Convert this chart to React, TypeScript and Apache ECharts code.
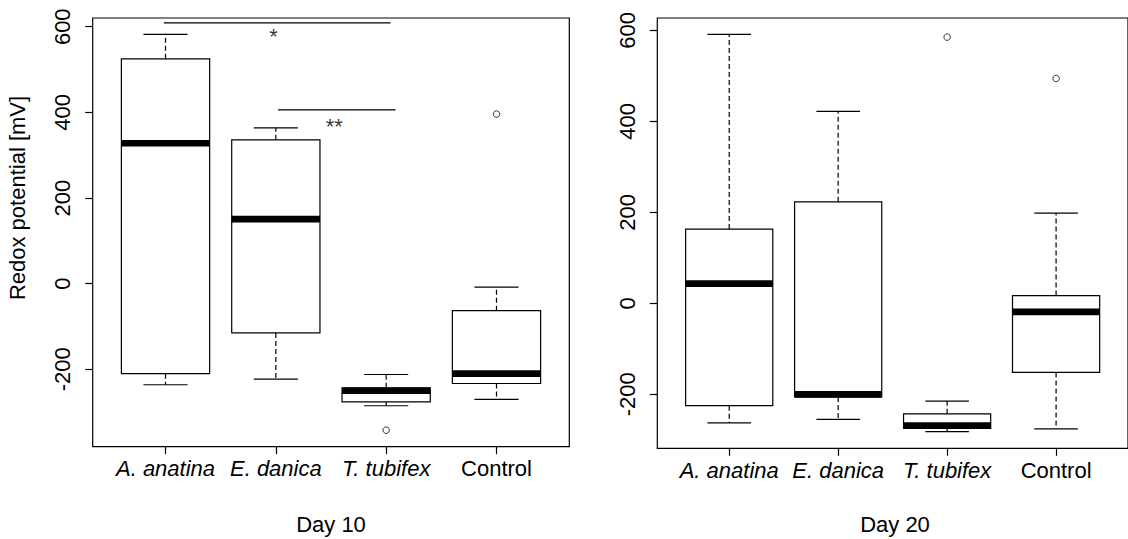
import React, { useEffect, useRef } from "react";
import * as echarts from "echarts";

const FONT = "'Liberation Sans', Arial, Helvetica, sans-serif";

const categories = ["A. anatina", "E. danica", "T. tubifex", "Control"];
const italicCats = [true, true, true, false];
const xTicks = [1, 2, 3, 4];
const yTicks = [-200, 0, 200, 400, 600];

// [lower whisker, Q1, median, Q3, upper whisker]
const day10Stats = [
  [-236, -210, 328, 525, 582],
  [-223, -115, 151, 336, 364],
  [-285, -276, -250, -243, -212],
  [-270, -233, -210, -63, -8],
];
const day10Outliers = [
  [3, -342],
  [4, 396],
];
const day20Stats = [
  [-263, -225, 43, 163, 591],
  [-255, -206, -200, 223, 422],
  [-282, -275, -269, -243, -215],
  [-276, -152, -19, 17, 198],
];
const day20Outliers = [
  [3, 585],
  [4, 494],
];

// significance brackets (Day 10)
const sigLineA = [
  [0.985, 609],
  [3.04, 609],
];
const sigLineB = [
  [2.02, 406],
  [3.085, 406],
];
const sigLabels = [
  { pos: [1.98, 577], text: "*" },
  { pos: [2.53, 368], text: "**" },
];

const panelTitles = ["Day 10", "Day 20"];
const yAxisTitle = "Redox potential [mV]";

const renderBox = (_params: any, api: any) => {
  const x = api.value(0);
  const lo = api.value(1);
  const q1 = api.value(2);
  const md = api.value(3);
  const q3 = api.value(4);
  const hi = api.value(5);
  const p = (a: number, b: number) => api.coord([a, b]);
  const hw = 0.4;
  const cw = 0.2;
  const line = (a: number[], b: number[], style: any) => ({
    type: "line",
    shape: { x1: a[0], y1: a[1], x2: b[0], y2: b[1] },
    style,
  });
  const thin = { stroke: "#000", lineWidth: 1.2 };
  const dashed = { stroke: "#000", lineWidth: 1.2, lineDash: [5, 3] };
  const tl = p(x - hw, q3);
  const br = p(x + hw, q1);
  return {
    type: "group",
    children: [
      line(p(x, q3), p(x, hi), dashed),
      line(p(x, q1), p(x, lo), dashed),
      line(p(x - cw, hi), p(x + cw, hi), thin),
      line(p(x - cw, lo), p(x + cw, lo), thin),
      {
        type: "rect",
        shape: { x: tl[0], y: tl[1], width: br[0] - tl[0], height: br[1] - tl[1] },
        style: { fill: "#fff", stroke: "#000", lineWidth: 1.2 },
      },
      line(p(x - hw, md), p(x + hw, md), { stroke: "#000", lineWidth: 6.7 }),
    ],
  };
};

const makeXAxis = (gridIndex: number) => ({
  type: "value",
  gridIndex,
  min: 0.34,
  max: 4.66,
  axisLine: { show: false, onZero: false },
  splitLine: { show: false },
  axisTick: {
    show: true,
    customValues: xTicks,
    length: 7.5,
    lineStyle: { color: "#000", width: 1.2 },
  },
  axisLabel: {
    show: true,
    customValues: xTicks,
    margin: 11,
    formatter: (v: number) => {
      const i = Math.round(v) - 1;
      const name = categories[i] ?? "";
      return italicCats[i] ? `{i|${name}}` : `{n|${name}}`;
    },
    rich: {
      i: { fontStyle: "italic", fontSize: 22, fontFamily: FONT, color: "#000" },
      n: { fontSize: 22, fontFamily: FONT, color: "#000" },
    },
  },
});

const makeYAxis = (gridIndex: number, min: number, max: number) => ({
  type: "value",
  gridIndex,
  min,
  max,
  axisLine: { show: false, onZero: false },
  splitLine: { show: false },
  axisTick: {
    show: true,
    customValues: yTicks,
    length: 7.5,
    lineStyle: { color: "#000", width: 1.2 },
  },
  axisLabel: {
    show: true,
    customValues: yTicks,
    rotate: 90,
    margin: 19,
    fontSize: 22,
    fontFamily: FONT,
    color: "#000",
  },
});

export default function App() {
  const ref = useRef<HTMLDivElement>(null);
  useEffect(() => {
    if (!ref.current) return;
    const chart = echarts.init(ref.current, undefined, { renderer: "svg" });
    const option: any = {
      animation: false,
      backgroundColor: "#fff",
      grid: [
        {
          left: 92.7,
          top: 18,
          width: 476.6,
          height: 428.7,
          show: true,
          borderColor: "#000",
          borderWidth: 1.2,
          backgroundColor: "#fff",
        },
        {
          left: 657.3,
          top: 18,
          width: 478.5,
          height: 430.3,
          show: true,
          borderColor: "#000",
          borderWidth: 1.2,
          backgroundColor: "#fff",
        },
      ],
      xAxis: [makeXAxis(0), makeXAxis(1)],
      yAxis: [makeYAxis(0, -380.6, 620.4), makeYAxis(1, -318.7, 627)],
      series: [
        {
          type: "custom",
          xAxisIndex: 0,
          yAxisIndex: 0,
          renderItem: renderBox,
          encode: { x: 0, y: [1, 2, 3, 4, 5] },
          data: day10Stats.map((s, i) => [xTicks[i], ...s]),
          silent: true,
        },
        {
          type: "custom",
          xAxisIndex: 1,
          yAxisIndex: 1,
          renderItem: renderBox,
          encode: { x: 0, y: [1, 2, 3, 4, 5] },
          data: day20Stats.map((s, i) => [xTicks[i], ...s]),
          silent: true,
        },
        {
          type: "scatter",
          xAxisIndex: 0,
          yAxisIndex: 0,
          symbol: "circle",
          symbolSize: 6.5,
          itemStyle: { color: "#fff", borderColor: "#000", borderWidth: 1 },
          data: day10Outliers,
          silent: true,
        },
        {
          type: "scatter",
          xAxisIndex: 1,
          yAxisIndex: 1,
          symbol: "circle",
          symbolSize: 6.5,
          itemStyle: { color: "#fff", borderColor: "#000", borderWidth: 1 },
          data: day20Outliers,
          silent: true,
        },
        {
          type: "line",
          xAxisIndex: 0,
          yAxisIndex: 0,
          symbol: "none",
          lineStyle: { color: "#000", width: 1.2 },
          data: sigLineA,
          silent: true,
        },
        {
          type: "line",
          xAxisIndex: 0,
          yAxisIndex: 0,
          symbol: "none",
          lineStyle: { color: "#000", width: 1.2 },
          data: sigLineB,
          silent: true,
        },
        {
          type: "scatter",
          xAxisIndex: 0,
          yAxisIndex: 0,
          symbolSize: 0,
          data: sigLabels.map((l) => ({ value: l.pos, name: l.text })),
          label: {
            show: true,
            position: "inside",
            formatter: (p: any) => p.name,
            fontSize: 22,
            fontFamily: FONT,
            color: "#000",
          },
          silent: true,
        },
      ],
      graphic: [
        {
          type: "text",
          x: 17,
          y: 198,
          rotation: Math.PI / 2,
          style: {
            text: yAxisTitle,
            fontSize: 22,
            fontFamily: FONT,
            fill: "#000",
            textAlign: "center",
            textVerticalAlign: "middle",
          },
        },
        {
          type: "text",
          x: 331,
          y: 524.5,
          style: {
            text: panelTitles[0],
            fontSize: 22,
            fontFamily: FONT,
            fill: "#000",
            textAlign: "center",
            textVerticalAlign: "middle",
          },
        },
        {
          type: "text",
          x: 895,
          y: 524.8,
          style: {
            text: panelTitles[1],
            fontSize: 22,
            fontFamily: FONT,
            fill: "#000",
            textAlign: "center",
            textVerticalAlign: "middle",
          },
        },
      ],
    };
    chart.setOption(option);
    return () => chart.dispose();
  }, []);
  return (
    <div
      ref={ref}
      style={{ position: "fixed", left: 0, top: 0, width: 1128, height: 539, background: "#fff" }}
    />
  );
}
